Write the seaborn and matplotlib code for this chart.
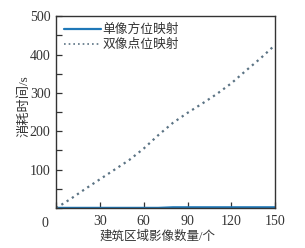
import numpy as np
import pandas as pd
import matplotlib
matplotlib.use("Agg")
import matplotlib.pyplot as plt
import seaborn as sns
from matplotlib.ticker import MultipleLocator

# data
image_counts = [0, 10, 20, 30, 40, 50, 57, 60, 70, 80, 90, 100, 110, 120, 130, 140, 150]
single_time = [0.5, 0.5, 0.5, 0.5, 0.5, 0.5, 0.5, 0.5, 0.5, 2.0, 2.0, 2.0, 2.0, 2.0, 2.0, 2.0, 2.0]
double_time = [0, 24, 50, 75, 100, 125, 146, 155, 190, 222, 248, 272, 297, 325, 358, 390, 425]
series_names = ["单像方位映射", "双像点位映射"]
x_ticks = [0, 30, 60, 90, 120, 150]
y_ticks = [100, 200, 300, 400, 500]

df = pd.DataFrame({
    "x": image_counts * 2,
    "y": single_time + double_time,
    "method": [series_names[0]] * len(image_counts) + [series_names[1]] * len(image_counts),
})

sns.set_theme(style="white")
plt.rcParams['font.family'] = ['Liberation Serif', 'Noto Sans CJK SC', 'DejaVu Sans']

fig = plt.figure(figsize=(3.05, 2.48), dpi=100)
ax = fig.add_axes([0.184, 0.161, 0.718, 0.774])

palette = {series_names[0]: "#1f78b8", series_names[1]: "#5b7384"}
sns.lineplot(data=df, x="x", y="y", hue="method", style="method",
             dashes={series_names[0]: "", series_names[1]: (1, 1.8)},
             palette=palette, ax=ax, legend=True, linewidth=1.6)
for ln in ax.get_lines():
    if ln.get_label() == series_names[1]:
        ln.set_linewidth(1.2)

ax.set_xlim(0, 150)
ax.set_ylim(0, 500)
ax.set_xticks(x_ticks)
ax.set_xticklabels([""] + [str(t) for t in x_ticks[1:]])
ax.set_yticks(y_ticks)
ax.set_yticklabels([str(t) for t in y_ticks])
ax.yaxis.set_minor_locator(MultipleLocator(50))
ax.tick_params(axis="both", which="both", direction="in", length=4, width=0.9,
               color="#333333", labelsize=10, labelcolor="#333333",
               bottom=True, left=True, top=False, right=False)
ax.tick_params(axis="y", which="major", pad=4)
ax.tick_params(axis="x", which="major", pad=5)
ax.text(-0.035, -0.045, "0", transform=ax.transAxes, ha="right", va="top",
        fontsize=10, color="#333333")

for sp in ax.spines.values():
    sp.set_color("#333333")
    sp.set_linewidth(1.0)

ax.set_xlabel("建筑区域影像数量/个", fontsize=9, color="#333333", labelpad=3)
ax.xaxis.set_label_coords(0.465, -0.115)
ax.set_ylabel("消耗时间/s", fontsize=9.5, color="#333333")
ax.yaxis.set_label_coords(-0.115, 0.53)

leg = ax.legend(loc="upper left", frameon=False, fontsize=9.2, handlelength=2.9,
                handletextpad=0.15, borderaxespad=0.2, labelspacing=0.22,
                bbox_to_anchor=(0.0, 1.0))
for t in leg.get_texts():
    t.set_color("#333333")
for h in leg.get_lines():
    if h.get_label() == series_names[0]:
        h.set_linewidth(1.6)

fig.savefig("out.png", dpi=100)
